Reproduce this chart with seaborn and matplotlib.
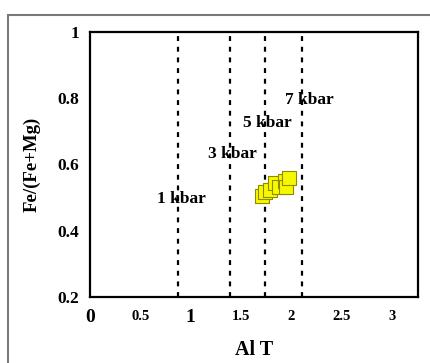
import matplotlib
matplotlib.use("Agg")
import matplotlib.pyplot as plt
import seaborn as sns
import pandas as pd
from matplotlib.patches import Rectangle

# Data
al_t = [1.705, 1.738, 1.787, 1.837, 1.880, 1.936, 1.953, 1.979]
fe_ratio = [0.505, 0.517, 0.524, 0.544, 0.533, 0.551, 0.533, 0.558]
pressure_lines = [0.87, 1.39, 1.74, 2.11]
pressure_labels = ["1 kbar", "3 kbar", "5 kbar", "7 kbar"]
label_x = [0.91, 1.415, 1.767, 2.175]
label_y = [0.495, 0.633, 0.726, 0.795]
xticks = [0, 0.5, 1, 1.5, 2, 2.5, 3]
xtick_labels = ["0", "0.5", "1", "1.5", "2", "2.5", "3"]
xtick_sizes = [14, 10.5, 14, 10.5, 10.5, 10.5, 10.5]
yticks = [0.2, 0.4, 0.6, 0.8, 1.0]
ytick_labels = ["0.2", "0.4", "0.6", "0.8", "1"]

sns.set_style("white")
plt.rcParams['font.family'] = ['Liberation Serif', 'DejaVu Serif']
plt.rcParams['font.weight'] = 'bold'
plt.rcParams['text.color'] = 'black'
plt.rcParams['axes.labelcolor'] = 'black'
plt.rcParams['xtick.color'] = 'black'
plt.rcParams['ytick.color'] = 'black'

fig = plt.figure(figsize=(4.31, 3.63), dpi=100)
fig.patch.set_facecolor("white")
ax = fig.add_axes([90/431, 66/363, 328/431, 265/363])

# outer frame
fig.patches.append(Rectangle((8/431, -0.1), 1.2, (363-15)/363 + 0.1, transform=fig.transFigure,
                             fill=False, edgecolor="#7a7a7a", linewidth=1.5, zorder=0))

df = pd.DataFrame({"AlT": al_t, "Fe": fe_ratio})
sns.scatterplot(data=df, x="AlT", y="Fe", marker="s", s=110, color="#f7f700",
                edgecolor="#8c8c00", linewidth=0.8, ax=ax, zorder=3)

for xv in pressure_lines:
    ax.axvline(xv, color="black", linestyle=(0, (2.2, 2.6)), linewidth=1.6, zorder=2)

for t, xv, yv in zip(pressure_labels, label_x, label_y):
    ax.text(xv, yv, t, ha="center", va="center", fontsize=12.5, fontweight="bold",
            color="black", zorder=4)

ax.set_xlim(0, 3.26)
ax.set_ylim(0.2, 1.0)
ax.set_xticks(xticks)
ax.set_xticklabels(xtick_labels)
for lbl, sz in zip(ax.get_xticklabels(), xtick_sizes):
    lbl.set_fontsize(sz)
    lbl.set_fontweight("bold")
ax.set_yticks(yticks)
ax.set_yticklabels(ytick_labels, fontsize=12.5, fontweight="bold")
ax.tick_params(axis="both", length=0, colors="black")
ax.tick_params(axis="x", pad=9)
ax.tick_params(axis="y", pad=8)

ax.set_xlabel("Al T", fontsize=14.5, fontweight="bold", labelpad=10, color="black")
ax.set_ylabel("Fe/(Fe+Mg)", fontsize=13.5, fontweight="bold", labelpad=12, color="black")

for sp in ax.spines.values():
    sp.set_visible(True)
    sp.set_color("black")
    sp.set_linewidth(1.6)

fig.savefig("out.png", dpi=100)
